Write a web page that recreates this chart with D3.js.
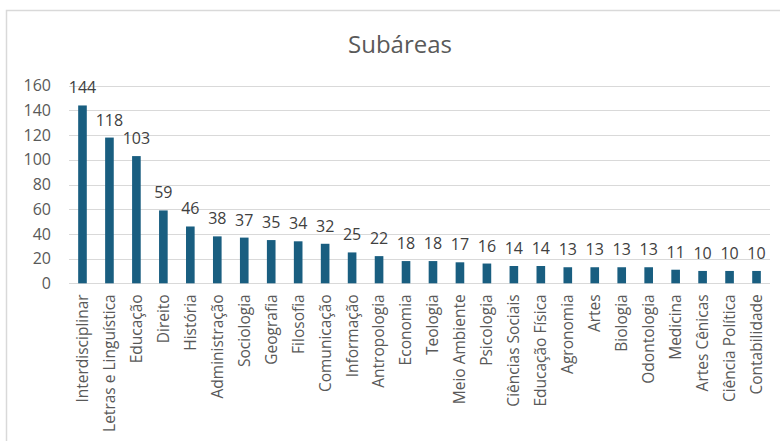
<!DOCTYPE html>
<html>
<head>
<meta charset="utf-8">
<script src="https://cdn.jsdelivr.net/npm/d3@7"></script>
<style>
  body { margin: 0; background: #fff; }
  svg { display: block; font-family: "Open Sans", Arial, sans-serif; }
</style>
</head>
<body>
<svg id="chart"></svg>
<script>
const categories = ["Interdisciplinar", "Letras e Linguística", "Educação", "Direito", "História",
  "Administração", "Sociologia", "Geografia", "Filosofia", "Comunicação", "Informação",
  "Antropologia", "Economia", "Teologia", "Meio Ambiente", "Psicologia", "Ciências Sociais",
  "Educação Física", "Agronomia", "Artes", "Biologia", "Odontologia", "Medicina",
  "Artes Cênicas", "Ciência Política", "Contabilidade"]
const values = [144, 118, 103, 59, 46, 38, 37, 35, 34, 32, 25, 22, 18, 18, 17, 16, 14, 14,
  13, 13, 13, 13, 11, 10, 10, 10]
const yTicks = [0, 20, 40, 60, 80, 100, 120, 140, 160]
const title = "Subáreas"

const width = 780, height = 441
const plotLeft = 69, plotRight = 770
const textColor = "#595959"
const barColor = "#195e80"
const font = "'Open Sans', Arial, sans-serif"

const svg = d3.select("#chart")
  .attr("width", width)
  .attr("height", height)

// chart frame (left + top only visible)
svg.append("path")
  .attr("d", `M6.5,${height} V10.5 H${width}`)
  .attr("fill", "none")
  .attr("stroke", "#d9d9d9")
  .attr("stroke-width", 1.5)

const x = d3.scaleBand()
  .domain(categories)
  .range([plotLeft, plotRight])
  .paddingInner(0.68)
  .paddingOuter(0.34)

const y = d3.scaleLinear()
  .domain([0, 160])
  .range([283.3, 85.7])

// gridlines
svg.append("g")
  .selectAll("line")
  .data(yTicks)
  .enter().append("line")
  .attr("x1", plotLeft)
  .attr("x2", plotRight)
  .attr("y1", d => Math.round(y(d)) + 0.5)
  .attr("y2", d => Math.round(y(d)) + 0.5)
  .attr("stroke", "#d9d9d9")
  .attr("stroke-width", 1.2)

// y axis labels
const yAxis = svg.append("g")
  .attr("transform", `translate(${plotLeft},0)`)
  .call(d3.axisLeft(y).tickValues(yTicks).tickSize(0).tickPadding(18))
yAxis.select(".domain").remove()
yAxis.selectAll("text")
  .attr("fill", textColor)
  .style("font-size", "16px")
  .style("font-family", font)

// bars
svg.append("g")
  .selectAll("rect")
  .data(values)
  .enter().append("rect")
  .attr("x", (d, i) => x(categories[i]))
  .attr("width", x.bandwidth())
  .attr("y", d => y(d))
  .attr("height", d => y(0) - y(d))
  .attr("fill", barColor)

// value labels
svg.append("g")
  .selectAll("text")
  .data(values)
  .enter().append("text")
  .attr("x", (d, i) => x(categories[i]) + x.bandwidth() / 2)
  .attr("y", d => y(d) - 12)
  .attr("text-anchor", "middle")
  .attr("fill", "#404040")
  .style("font-size", "16px")
  .text(d => d)

// x axis labels
const xAxis = svg.append("g")
  .attr("transform", `translate(0,${y(0)})`)
  .call(d3.axisBottom(x).tickSize(0).tickPadding(0))
xAxis.select(".domain").remove()
xAxis.selectAll("text")
  .attr("fill", textColor)
  .style("font-size", "15.5px")
  .style("font-family", font)
  .attr("text-anchor", "end")
  .attr("dy", "0.35em")
  .attr("transform", "translate(0,11) rotate(-90)")
  .attr("x", 0)
  .attr("y", 0)

// title
svg.append("text")
  .attr("x", 400)
  .attr("y", 53)
  .attr("text-anchor", "middle")
  .attr("fill", textColor)
  .style("font-size", "24px")
  .text(title)
</script>
</body>
</html>
